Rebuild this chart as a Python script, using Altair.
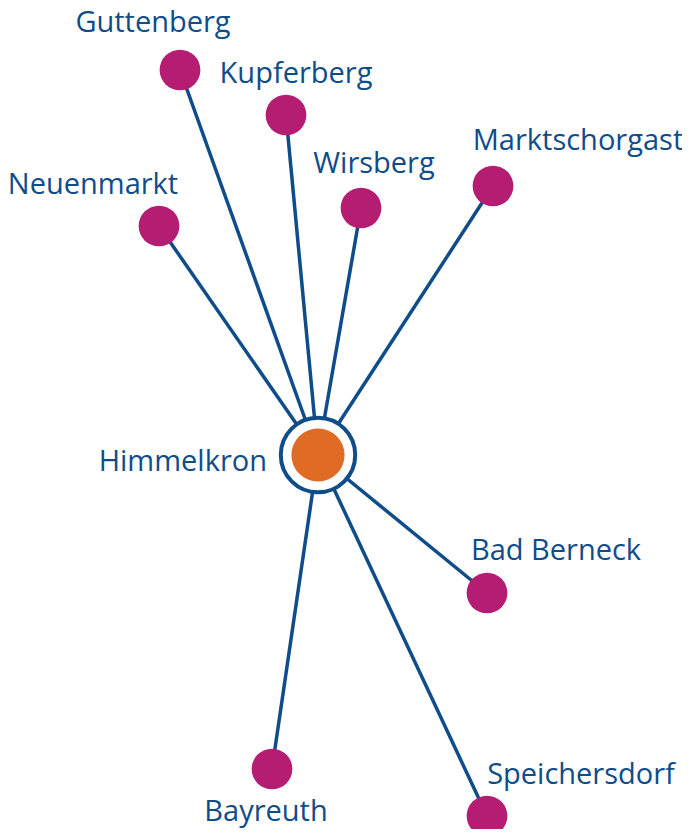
import altair as alt
import pandas as pd

# Network layout (positions in a 0..690 x 0..837 layout space, y downward)
hub = "Himmelkron"
hub_x = [318]
hub_y = [455]

towns = ["Guttenberg", "Kupferberg", "Wirsberg", "Marktschorgast", "Neuenmarkt",
         "Bad Berneck", "Bayreuth", "Speichersdorf"]
town_x = [180, 286, 361, 493, 159, 487, 272, 487]
town_y = [70, 115, 208, 186, 226, 593, 769, 816]

# Label anchor positions (text baseline)
label_names = towns + [hub]
label_x = [153, 296, 374, 578, 93, 556, 266, 581, 267]
label_y = [32, 83, 173, 150, 194, 560, 821, 784, 471]
label_align = ["center"] * 8 + ["right"]

BLUE = "#0f4c8a"
MAGENTA = "#b51d73"
ORANGE = "#e06b25"

nodes = pd.DataFrame({"name": towns, "x": town_x, "y": town_y})
edges = pd.DataFrame({"name": towns, "x": [hub_x[0]] * len(towns), "y": [hub_y[0]] * len(towns),
                      "x2": town_x, "y2": town_y})
hubdf = pd.DataFrame({"name": [hub], "x": hub_x, "y": hub_y})
labels = pd.DataFrame({"name": label_names, "x": label_x, "y": label_y, "align": label_align})

xs = alt.Scale(domain=[8, 682], range=[0, 674])
ys = alt.Scale(domain=[8, 829], range=[0, 821])
X = lambda f="x": alt.X(f"{f}:Q", scale=xs, axis=None)
Y = lambda f="y": alt.Y(f"{f}:Q", scale=ys, axis=None)

edge_layer = alt.Chart(edges).mark_rule(color=BLUE, strokeWidth=3.5).encode(
    x=X(), y=Y(), x2="x2:Q", y2="y2:Q")

node_layer = alt.Chart(nodes).mark_circle(color=MAGENTA, opacity=1, size=1660).encode(
    x=X(), y=Y())

hub_ring = alt.Chart(hubdf).mark_point(shape="circle", filled=True, fill="white", stroke=BLUE,
                                       strokeWidth=4, opacity=1, size=5540).encode(x=X(), y=Y())
hub_core = alt.Chart(hubdf).mark_circle(color=ORANGE, opacity=1, size=2830).encode(x=X(), y=Y())

text_c = alt.Chart(labels[labels["align"] == "center"]).mark_text(
    font="Open Sans", fontSize=29, color=BLUE, align="center", baseline="alphabetic").encode(
    x=X(), y=Y(), text="name:N")
text_r = alt.Chart(labels[labels["align"] == "right"]).mark_text(
    font="Open Sans", fontSize=29, color=BLUE, align="right", baseline="alphabetic").encode(
    x=X(), y=Y(), text="name:N")

chart = alt.layer(edge_layer, node_layer, hub_ring, hub_core, text_c, text_r).properties(
    width=674, height=821,
    autosize=alt.AutoSizeParams(type="none"),
    padding=0,
).configure_view(stroke=None)

chart.save("out.html", embed_options={"renderer": "svg", "actions": False})
